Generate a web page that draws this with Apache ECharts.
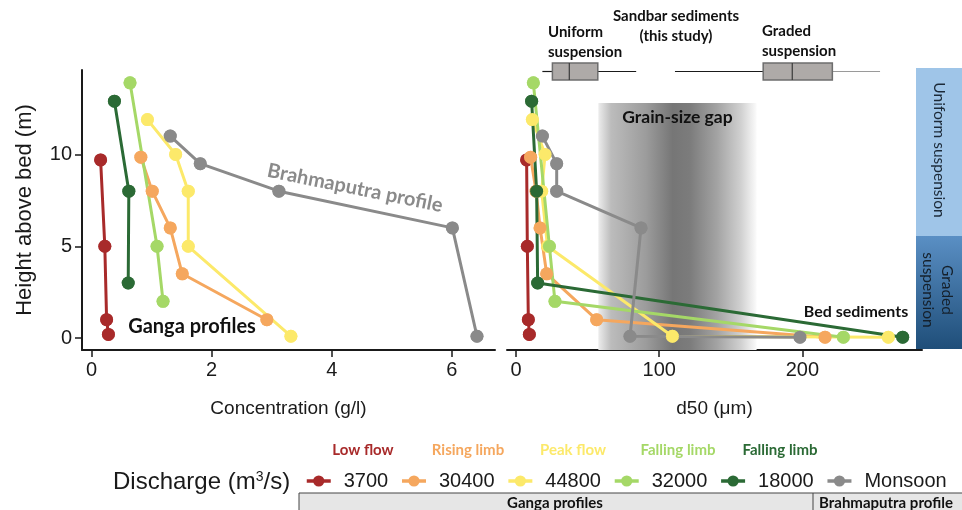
<!DOCTYPE html>
<html>
<head>
<meta charset="utf-8">
<script src="https://cdn.jsdelivr.net/npm/echarts@6/dist/echarts.min.js"></script>
<style>
  html, body { margin: 0; padding: 0; background: #fff; }
  #chart { width: 962px; height: 510px; }
</style>
</head>
<body>
<div id="chart"></div>
<script>
// legend names (discharge m3/s) and the phase label above each
const names = ['3700', '30400', '44800', '32000', '18000', 'Monsoon'];
const phases = ['Low flow', 'Rising limb', 'Peak flow', 'Falling limb', 'Falling limb'];

// concentration (g/l) vs height above bed (m)
const concLow = [[0.15, 9.7], [0.22, 5], [0.25, 1], [0.28, 0.2]];
const concRising = [[0.82, 9.85], [1.01, 8], [1.31, 6], [1.51, 3.5], [2.92, 1]];
const concPeak = [[0.93, 11.9], [1.4, 10], [1.61, 8], [1.61, 5], [3.32, 0.1]];
const concFalling = [[0.64, 13.9], [1.09, 5], [1.19, 2]];
const concFallingLate = [[0.38, 12.9], [0.62, 8], [0.61, 3]];
const concMonsoon = [[1.31, 11], [1.81, 9.5], [3.12, 8], [6.01, 6], [6.42, 0.1]];

// d50 (um) vs height above bed (m), last point = bed sediment
const d50Low = [[7.4, 9.7], [7.9, 5], [8.6, 1], [9.3, 0.2]];
const d50Rising = [[10.2, 9.85], [14, 8], [16.8, 6], [21.4, 3.5], [56.3, 1], [215.8, 0.05]];
const d50Peak = [[11.4, 11.9], [20.3, 10], [17.9, 8], [22, 5], [109.2, 0.1], [260, 0.05]];
const d50Falling = [[12.1, 13.9], [23.3, 5], [27.2, 2], [228.6, 0.05]];
const d50FallingLate = [[10.9, 12.9], [14.4, 8], [15.1, 3], [270, 0.05]];
const d50Monsoon = [[18.4, 11], [28.4, 9.5], [28.4, 8], [87.3, 6], [79.6, 0.1], [198.3, 0.05]];

// sandbar sediment d50: [min, q1, median, q3, max]
const sandbarBoxes = [[18.4, 25.4, 37.2, 57.1, 83.9], [111, 172.6, 192.9, 220.9, 254.2]];
// grain-size gap (um) and its top (m)
const gapRange = [57.5, 168];
const gapTop = 12.8;

const concTicks = [0, 2, 4, 6];
const d50Ticks = [0, 100, 200];
const heightTicks = [0, 5, 10];

const colors = ['#a82a2a', '#f5a75e', '#fce96a', '#a5d867', '#2b6a35', '#8a8a8a'];
const concData = [concLow, concRising, concPeak, concFalling, concFallingLate, concMonsoon];
const d50Data = [d50Low, d50Rising, d50Peak, d50Falling, d50FallingLate, d50Monsoon];

const axisFont = 'Liberation Sans, Arial, sans-serif';
const noteFont = 'Lato, Open Sans, sans-serif';
const ink = '#1a1a1a';

const chart = echarts.init(document.getElementById('chart'), null, { renderer: 'canvas' });

function valueAxis(grid, min, max, ticks, extra) {
  return Object.assign({
    gridIndex: grid, type: 'value', min: min, max: max,
    axisLine: { show: true, onZero: false, lineStyle: { color: ink, width: 2 } },
    axisTick: { show: true, length: 7, customValues: ticks, lineStyle: { color: ink, width: 1.5 } },
    axisLabel: { customValues: ticks, fontSize: 20, margin: 10, color: ink, fontFamily: axisFont },
    splitLine: { show: false },
    nameTextStyle: { fontSize: 19, color: ink, fontFamily: axisFont }
  }, extra);
}

const series = [];
// lines (with points so the legend icon shows a dot)
names.forEach(function (n, i) {
  series.push({
    name: n, type: 'line', xAxisIndex: 0, yAxisIndex: 0, data: concData[i],
    symbol: 'circle', symbolSize: 13, color: colors[i],
    lineStyle: { width: 3 }, animation: false
  });
});
names.forEach(function (n, i) {
  const s = {
    name: n, type: 'line', xAxisIndex: 1, yAxisIndex: 1, data: d50Data[i],
    symbol: 'circle', symbolSize: 13, color: colors[i],
    lineStyle: { width: 3 }, animation: false
  };
  if (i === 0) {
    s.z = 1;
    s.markArea = {
      silent: true,
      itemStyle: {
        color: {
          type: 'linear', x: 0, y: 0, x2: 1, y2: 0,
          colorStops: [
            { offset: 0, color: '#ececec' }, { offset: 0.08, color: '#bcbcbc' },
            { offset: 0.3, color: '#9c9c9c' }, { offset: 0.47, color: '#767676' },
            { offset: 0.58, color: '#7c7c7c' }, { offset: 0.75, color: '#a3a3a3' },
            { offset: 0.9, color: '#d0d0d0' }, { offset: 1, color: '#fbfbfb' }
          ]
        }
      },
      label: {
        show: true, position: 'insideTop', distance: 5, color: '#111',
        fontFamily: noteFont, fontWeight: 'bold', fontSize: 17.5
      },
      data: [[{ name: 'Grain-size gap', xAxis: gapRange[0], yAxis: gapTop }, { xAxis: gapRange[1], yAxis: -0.65 }]]
    };
  }
  series.push(s);
});
// points drawn again on top of every line
names.forEach(function (n, i) {
  series.push({ name: n, type: 'scatter', xAxisIndex: 0, yAxisIndex: 0, data: concData[i],
    symbolSize: 13, color: colors[i], animation: false });
  series.push({ name: n, type: 'scatter', xAxisIndex: 1, yAxisIndex: 1, data: d50Data[i],
    symbolSize: 13, color: colors[i], animation: false });
});
// sandbar box plots
const whiskerRight = ['#1a1a1a', '#9a9a9a'];
series.push({
  type: 'custom', xAxisIndex: 2, yAxisIndex: 2, animation: false, silent: true,
  data: sandbarBoxes,
  renderItem: function (params, api) {
    const lo = api.coord([api.value(0), 0]);
    const q1 = api.coord([api.value(1), 0]);
    const md = api.coord([api.value(2), 0]);
    const q3 = api.coord([api.value(3), 0]);
    const hi = api.coord([api.value(4), 0]);
    const h = api.size([0, 1])[1];
    const cy = lo[1];
    return {
      type: 'group',
      children: [
        { type: 'line', shape: { x1: lo[0], y1: cy, x2: q1[0], y2: cy }, style: { stroke: '#1a1a1a', lineWidth: 1.2 } },
        { type: 'line', shape: { x1: q3[0], y1: cy, x2: hi[0], y2: cy }, style: { stroke: whiskerRight[params.dataIndex], lineWidth: 1.2 } },
        { type: 'rect', shape: { x: q1[0], y: cy - h / 2, width: q3[0] - q1[0], height: h },
          style: { fill: '#aeaaa8', stroke: '#6d6d6d', lineWidth: 1.5 } },
        { type: 'line', shape: { x1: md[0], y1: cy - h / 2, x2: md[0], y2: cy + h / 2 }, style: { stroke: '#3a3a3a', lineWidth: 1.2 } }
      ]
    };
  }
});

function note(text, x, y, size, color, extra) {
  return Object.assign({
    type: 'text', x: x, y: y, silent: true,
    style: { text: text, fill: color, font: 'bold ' + size + 'px ' + noteFont, align: 'center', verticalAlign: 'middle' }
  }, extra || {});
}
function block(text, x, y, align) {
  return { type: 'text', x: x, y: y, silent: true,
    style: { text: text, fill: '#111', font: 'bold 15px ' + noteFont, align: align, verticalAlign: 'middle', lineHeight: 20 } };
}

const phaseX = [363, 468, 573, 678, 780];
const graphics = [
  note('Ganga profiles', 192, 327, 20, '#111'),
  note('Brahmaputra profile', 355, 188, 20, '#8a8a8a', { rotation: -0.2 }),
  note('Bed sediments', 856, 312, 16, '#111'),
  block('Sandbar sediments\n(this study)', 676, 26, 'center'),
  block('Uniform\nsuspension', 548, 42, 'left'),
  block('Graded\nsuspension', 762, 41, 'left'),
  // suspension colour bar
  { type: 'rect', silent: true, shape: { x: 916, y: 68, width: 46, height: 168 }, style: { fill: '#9fc5e8' } },
  { type: 'rect', silent: true, shape: { x: 916, y: 236, width: 46, height: 113 },
    style: { fill: { type: 'linear', x: 0, y: 0, x2: 0, y2: 1, colorStops: [{ offset: 0, color: '#5a8fc4' }, { offset: 1, color: '#1f4e79' }] } } },
  { type: 'text', silent: true, x: 939, y: 150, rotation: -Math.PI / 2,
    style: { text: 'Uniform suspension', fill: '#1c2a38', font: '15.5px ' + noteFont, align: 'center', verticalAlign: 'middle' } },
  { type: 'text', silent: true, x: 937, y: 290, rotation: -Math.PI / 2,
    style: { text: 'Graded\nsuspension', fill: '#15202b', font: '15.5px ' + noteFont, align: 'center', verticalAlign: 'middle', lineHeight: 19 } },
  // legend title
  { type: 'text', silent: true, x: 113, y: 482,
    style: { text: '{a|Discharge (m}{s|3}{a|/s)}', align: 'left', verticalAlign: 'middle',
      rich: { a: { fontSize: 24, fontFamily: axisFont, fill: ink }, s: { fontSize: 14, fontFamily: axisFont, fill: ink, verticalAlign: 'top', padding: [0, 0, 10, 0] } } } },
  // profile groups bar
  { type: 'rect', silent: true, shape: { x: 299, y: 493, width: 670, height: 22 }, style: { fill: '#e6e6e6', stroke: '#444', lineWidth: 1 } },
  { type: 'line', silent: true, shape: { x1: 813, y1: 493, x2: 813, y2: 510 }, style: { stroke: '#444', lineWidth: 1 } },
  note('Ganga profiles', 555, 503, 15, '#111'),
  note('Brahmaputra profile', 886, 503, 15, '#111')
];
phases.forEach(function (p, i) {
  graphics.push(note(p, phaseX[i], 450, 15, colors[i]));
});

chart.setOption({
  animation: false,
  backgroundColor: '#fff',
  textStyle: { fontFamily: axisFont },
  grid: [
    { left: 82, top: 70, width: 413, height: 280 },
    { left: 507, top: 70, width: 415, height: 280 },
    { left: 507, top: 63, width: 415, height: 17 }
  ],
  xAxis: [
    valueAxis(0, -0.16, 6.72, concTicks, { name: 'Concentration (g/l)', nameLocation: 'middle', nameGap: 49 }),
    valueAxis(1, -6.3, 283.5, d50Ticks, { name: 'd50 (\u03bcm)', nameLocation: 'middle', nameGap: 49 }),
    { gridIndex: 2, type: 'value', min: -6.3, max: 283.5, show: false }
  ],
  yAxis: [
    valueAxis(0, -0.65, 14.6, heightTicks, { name: 'Height above bed (m)', nameLocation: 'middle', nameGap: 46,
      nameTextStyle: { fontSize: 22, color: ink, fontFamily: axisFont } }),
    { gridIndex: 1, type: 'value', min: -0.65, max: 14.6, show: false },
    { gridIndex: 2, type: 'category', data: ['sandbar'], show: false }
  ],
  legend: {
    left: 300, top: 466, itemWidth: 24, itemHeight: 14, itemGap: 12,
    data: names,
    lineStyle: { width: 3.5 },
    textStyle: { fontFamily: axisFont, fontSize: 20, color: ink, padding: [0, 0, 0, 8] }
  },
  graphic: graphics,
  series: series
});
</script>
</body>
</html>
